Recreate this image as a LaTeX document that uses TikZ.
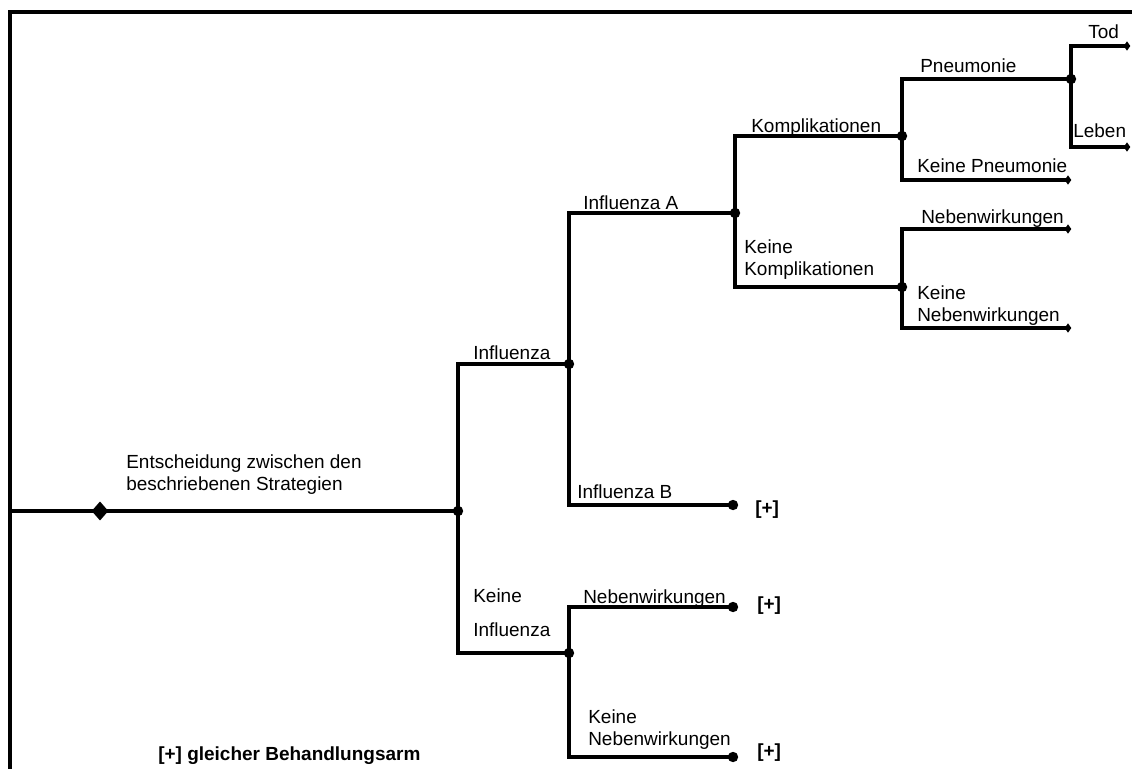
\documentclass[tikz,border=0pt]{standalone}
\usepackage{fontspec}
\setmainfont{Liberation Sans}
\usetikzlibrary{shapes.geometric}
\tikzset{chance node/.style={circle, fill, inner sep=0pt, minimum size=0.26cm},
  decision node/.style={diamond, fill, inner sep=0pt, minimum width=0.42cm, minimum height=0.48cm},
  end node/.style={diamond, fill, inner sep=0pt, minimum width=0.17cm, minimum height=0.24cm},
  branch label/.style={anchor=base west, inner sep=0pt, align=left, font=\fontsize{13.5}{15.6}\selectfont},
  plus label/.style={anchor=base west, inner sep=0pt, font=\fontsize{13.5}{15.6}\selectfont\bfseries},
  branch/.style={line width=2.8pt}
}

\begin{document}
\begin{tikzpicture}[x=0.025cm, y=-0.025cm]
  \useasboundingbox (0,0) rectangle (1132,769);
  % Frame
  \draw[branch] (10,769) -- (10,12) -- (1132,12);
  % Decision
  \coordinate (start) at (12,511);
  \node[decision node] (dec) at (100,511) {};
  \node[chance node] (c0) at (458,511) {};
  % Influenza / Keine Influenza
  \node[chance node] (cinf) at (569,364) {};
  \node[chance node] (cnoinf) at (569,653) {};
  % Influenza A / B
  \node[chance node] (cA) at (735,213) {};
  \node[chance node] (cB) at (733,505) {};
  % Nebenwirkungen (Keine Influenza)
  \node[chance node] (cNW) at (733,607) {};
  \node[chance node] (cKNW) at (733,757) {};
  % Komplikationen
  \node[chance node] (cK) at (902,136) {};
  \node[chance node] (cKK) at (902,287) {};
  % Pneumonie
  \node[chance node] (cP) at (1071,79) {};
  \node[end node] (eKP) at (1068,180) {};
  \node[end node] (eNW) at (1068,229) {};
  \node[end node] (eKNW) at (1068,328) {};
  \node[end node] (eTod) at (1127,46) {};
  \node[end node] (eLeb) at (1127,147) {};
  % Connections
  \draw[branch] (start) -- (dec.center) -- (c0.center);
  \draw[branch] (c0.center) |- (cinf.center);
  \draw[branch] (c0.center) |- (cnoinf.center);
  \draw[branch] (cinf.center) |- (cA.center);
  \draw[branch] (cinf.center) |- (cB.center);
  \draw[branch] (cnoinf.center) |- (cNW.center);
  \draw[branch] (cnoinf.center) |- (cKNW.center);
  \draw[branch] (cA.center) |- (cK.center);
  \draw[branch] (cA.center) |- (cKK.center);
  \draw[branch] (cK.center) |- (cP.center);
  \draw[branch] (cK.center) |- (eKP.center);
  \draw[branch] (cKK.center) |- (eNW.center);
  \draw[branch] (cKK.center) |- (eKNW.center);
  \draw[branch] (cP.center) |- (eTod.center);
  \draw[branch] (cP.center) |- (eLeb.center);
  % Labels
  \node[branch label] (lEnt) at (126,490) {Entscheidung zwischen den\\beschriebenen Strategien};
  \node[branch label] (lInf) at (473,359) {Influenza};
  \node[branch label] (lKInf) at (473,636) {Keine\\[8.5pt]Influenza};
  \node[branch label] (lA) at (583,209) {Influenza A};
  \node[branch label] (lB) at (577,498) {Influenza B};
  \node[branch label] (lNW1) at (583,603) {Nebenwirkungen};
  \node[branch label] (lKNW1) at (588,745) {Keine\\Nebenwirkungen};
  \node[branch label] (lK) at (751,132) {Komplikationen};
  \node[branch label] (lKK) at (744,275) {Keine\\Komplikationen};
  \node[branch label] (lP) at (920,72) {Pneumonie};
  \node[branch label] (lKP) at (917,172) {Keine Pneumonie};
  \node[branch label] (lNW2) at (921,223) {Nebenwirkungen};
  \node[branch label] (lKNW2) at (917,321) {Keine\\Nebenwirkungen};
  \node[branch label] (lTod) at (1088,38) {Tod};
  \node[branch label] (lLeb) at (1073,137) {Leben};
  \node[plus label] (pB) at (755,514) {[+]};
  \node[plus label] (pNW) at (757,610) {[+]};
  \node[plus label] (pKNW) at (757,757) {[+]};
  \node[plus label] (legend) at (158,760) {[+] gleicher Behandlungsarm};
\end{tikzpicture}
\end{document}
